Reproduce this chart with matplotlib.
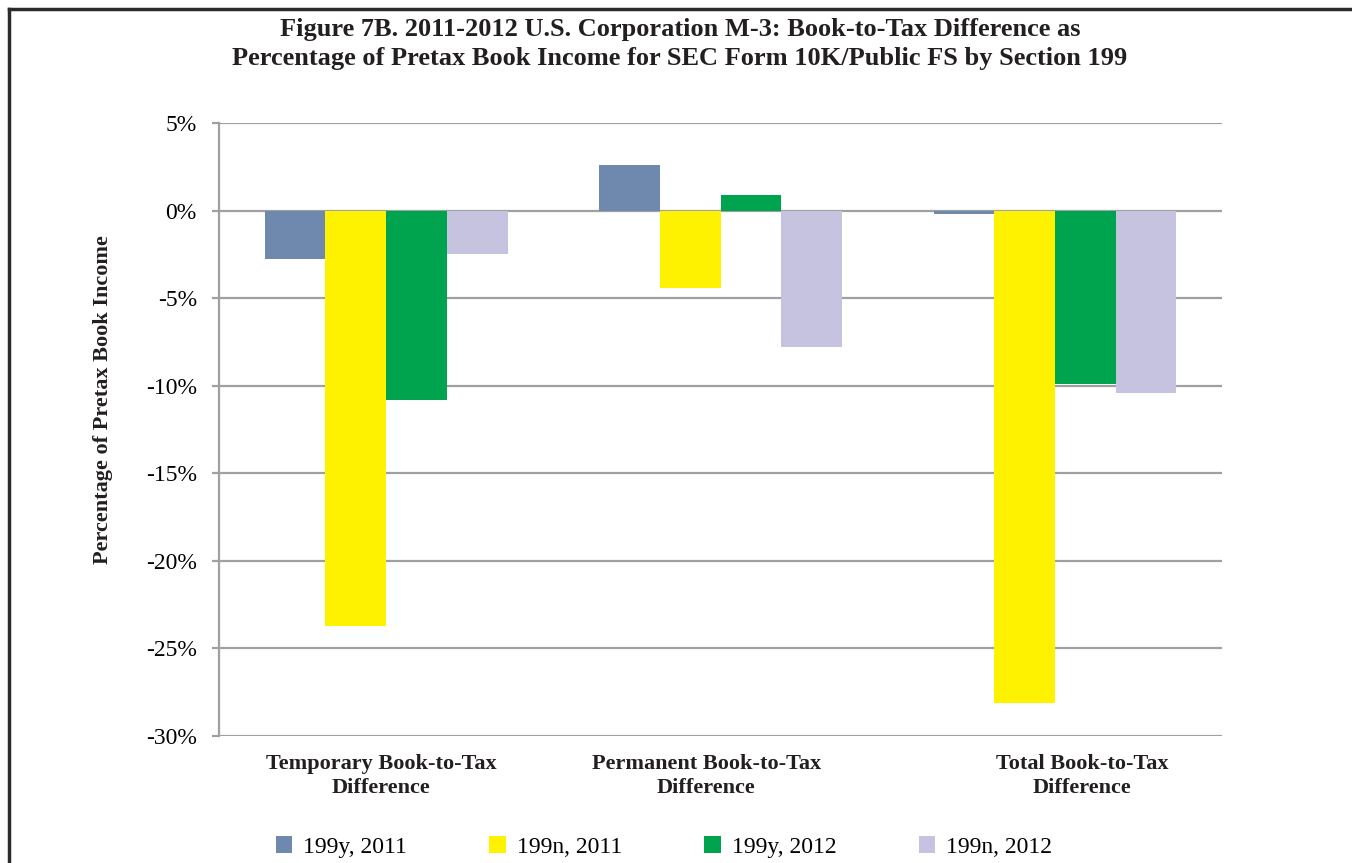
import matplotlib.pyplot as plt
import numpy as np
from matplotlib.patches import Patch
from matplotlib.lines import Line2D

plt.rcParams['font.family'] = ['Liberation Serif', 'DejaVu Serif']

categories = ["Temporary Book-to-Tax\nDifference",
              "Permanent Book-to-Tax\nDifference",
              "Total Book-to-Tax\nDifference"]
series = ["199y, 2011", "199n, 2011", "199y, 2012", "199n, 2012"]
y2011 = [-2.75, 2.6, -0.2]
n2011 = [-23.7, -4.4, -28.1]
y2012 = [-10.8, 0.9, -9.9]
n2012 = [-2.5, -7.8, -10.4]
colors = ["#6F89AE", "#FFF200", "#00A44F", "#C6C3E0"]
text_col = '#231F20'
grid_col = '#A0A0A0'

fig = plt.figure(figsize=(13.52, 8.63), dpi=100)
ax = fig.add_axes([0.162, 0.1472, 0.742, 0.7103])

x = np.arange(len(categories))
w = 0.1816
for i, (vals, c) in enumerate(zip([y2011, n2011, y2012, n2012], colors)):
    ax.bar(x + (i - 1.5) * w, vals, w, color=c, zorder=3, label=series[i])

ax.set_xlim(-0.5, 2.5)
ax.set_ylim(-30, 5)
ax.set_yticks(np.arange(-30, 6, 5))
ax.set_yticklabels([f"{v}%" for v in range(-30, 6, 5)], fontsize=17)
ax.grid(axis='y', color=grid_col, linewidth=1.6, zorder=0)
ax.tick_params(axis='y', length=5, width=1.6, color=grid_col, pad=11)

# category labels sit a little off the bar groups
ax.set_xticks([-0.015, 0.957, 2.082])
ax.set_xticklabels(categories, fontsize=16, fontweight='bold', color=text_col,
                   linespacing=1.25)
ax.tick_params(axis='x', length=0, pad=13)

for s in ['top', 'right', 'bottom']:
    ax.spines[s].set_visible(False)
ax.spines['left'].set_color(grid_col)
ax.spines['left'].set_linewidth(1.6)

fig.text(0.076, 0.5365, "Percentage of Pretax Book Income", rotation=90,
         ha='center', va='center', fontsize=16, fontweight='bold', color=text_col)

fig.suptitle("Figure 7B. 2011-2012 U.S. Corporation M-3: Book-to-Tax Difference as\n"
             "Percentage of Pretax Book Income for SEC Form 10K/Public FS by Section 199",
             x=0.503, y=0.979, fontsize=19, fontweight='bold', color=text_col,
             linespacing=1.3)

handles = [Patch(facecolor=c, edgecolor='none') for c in colors]
fig.legend(handles, series, loc='center', bbox_to_anchor=(0.491, 0.0185), ncol=4,
           frameon=False, fontsize=17, handlelength=0.7, handleheight=0.7,
           handletextpad=0.45, columnspacing=3.5, borderpad=0)

# frame around the figure (left and top edges)
fig.add_artist(Line2D([0.0068, 0.0068], [0.0, 0.9895], transform=fig.transFigure,
                      color='#2B2B2B', linewidth=2.5))
fig.add_artist(Line2D([0.0068, 1.0], [0.9895, 0.9895], transform=fig.transFigure,
                      color='#2B2B2B', linewidth=2.5))

fig.savefig("out.png", dpi=100)
